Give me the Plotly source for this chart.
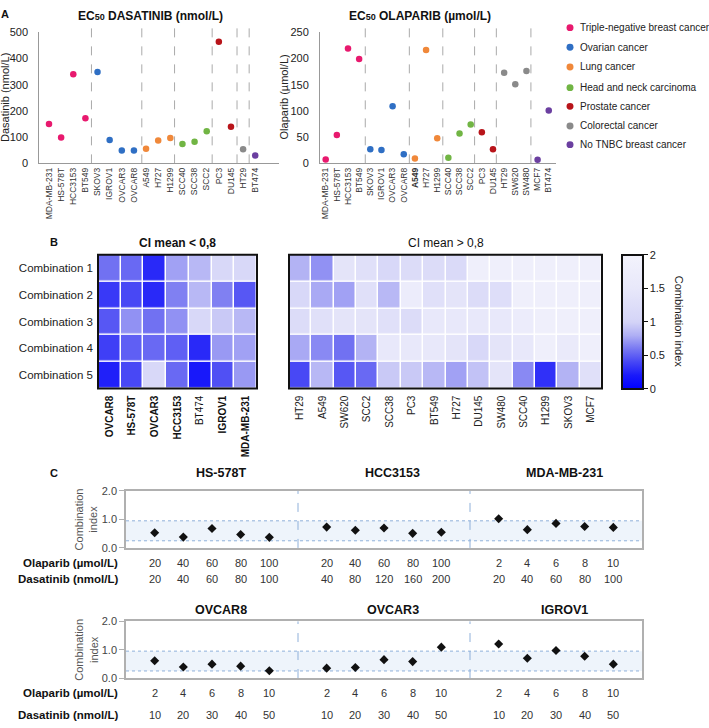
import plotly.graph_objects as go

W, H = 709, 728
def px(x): return x / W
def py(y): return 1 - y / H

FONT = "Liberation Sans, Arial, sans-serif"

# ---------------- Panel A data ----------------
group_names = ["Triple-negative breast cancer", "Ovarian cancer", "Lung cancer",
               "Head and neck carcinoma", "Prostate cancer", "Colorectal cancer",
               "No TNBC breast cancer"]
group_colors = ["#E8196E", "#2F6FC4", "#F0883A", "#71B544", "#B8141A", "#8A8A8A", "#6B3FA0"]

dasa_lines = ["MDA-MB-231", "HS-578T", "HCC3153", "BT549", "SKOV3", "IGROV1", "OVCAR3", "OVCAR8",
              "A549", "H727", "H1299", "SCC40", "SCC38", "SCC2", "PC3", "DU145", "HT29", "BT474"]
dasa_ec50 = [150, 99, 340, 172, 348, 89, 49, 49, 56, 87, 97, 74, 82, 122, 464, 140, 54, 30]
dasa_group = [0, 0, 0, 0, 1, 1, 1, 1, 2, 2, 2, 3, 3, 3, 4, 4, 5, 6]
dasa_separators = [3.5, 7.65, 10.35, 13.45, 15.5, 16.5]

olap_lines = ["MDA-MB-231", "HS-578T", "HCC3153", "BT549", "SKOV3", "IGROV1", "OVCAR3", "OVCAR8",
              "A549", "H727", "H1299", "SCC40", "SCC38", "SCC2", "PC3", "DU145", "HT29", "SW620",
              "SW480", "MCF7", "BT474"]
olap_ec50 = [7.5, 54, 219, 199, 27, 25.6, 109, 17.5, 9.4, 216, 48, 10.6, 57, 74, 59.4, 27, 173,
             151, 176, 7, 101]
olap_group = [0, 0, 0, 0, 1, 1, 1, 1, 2, 2, 2, 3, 3, 3, 4, 4, 5, 5, 5, 6, 6]
olap_separators = [3.55, 7.5, 10.5, 13.35, 15.3, 18.4]

dasa_yticks = [0, 100, 200, 300, 400, 500]
olap_yticks = [0, 50, 100, 150, 200, 250]

# ---------------- Panel B data ----------------
hm_rows = ["Combination 1", "Combination 2", "Combination 3", "Combination 4", "Combination 5"]
hm1_lines = ["OVCAR8", "HS-578T", "OVCAR3", "HCC3153", "BT474", "IGROV1", "MDA-MB-231"]
hm1_bold = [True, True, True, True, False, True, True]
hm1_ci = [
    [0.57, 0.54, 0.27, 0.75, 0.85, 1.10, 1.10],
    [0.34, 0.41, 0.27, 0.63, 0.85, 0.63, 0.47],
    [0.47, 0.69, 0.57, 0.69, 1.10, 0.94, 0.85],
    [0.37, 0.50, 0.54, 0.50, 0.27, 0.72, 0.75],
    [0.23, 0.41, 1.10, 0.54, 0.19, 0.44, 0.72],
]
hm2_lines = ["HT29", "A549", "SW620", "SCC2", "SCC38", "PC3", "BT549", "H727", "DU145", "SW480",
             "SCC40", "H1299", "SKOV3", "MCF7"]
hm2_ci = [
    [0.82, 0.69, 1.40, 1.30, 1.10, 1.20, 1.20, 1.15, 1.80, 1.80, 1.80, 1.80, 1.80, 1.80],
    [1.10, 0.78, 0.75, 1.30, 0.85, 1.70, 1.30, 1.40, 1.20, 1.25, 1.80, 1.80, 1.80, 1.80],
    [1.20, 1.30, 1.40, 1.40, 1.30, 1.20, 1.50, 1.50, 1.50, 1.50, 1.70, 1.80, 1.80, 1.80],
    [0.78, 0.66, 0.57, 0.82, 1.50, 1.50, 1.50, 1.40, 1.10, 1.40, 1.50, 1.80, 1.60, 1.80],
    [0.41, 0.85, 0.47, 0.54, 0.94, 0.94, 0.85, 0.75, 0.90, 1.40, 0.66, 0.30, 0.82, 1.30],
]
cbar_ticks = [0, 0.5, 1, 1.5, 2]
cbar_ticktext = ["0", "0.5", "1", "1.5", "2"]

# ---------------- Panel C data ----------------
c_row1_lines = ["HS-578T", "HCC3153", "MDA-MB-231"]
c_row1_ci = [
    [0.53, 0.38, 0.68, 0.47, 0.37],
    [0.73, 0.62, 0.70, 0.51, 0.55],
    [1.02, 0.64, 0.86, 0.75, 0.72],
]
c_row1_olap = [[20, 40, 60, 80, 100], [20, 40, 60, 80, 100], [2, 4, 6, 8, 10]]
c_row1_dasa = [[20, 40, 60, 80, 100], [40, 80, 120, 160, 200], [20, 40, 60, 80, 100]]

c_row2_lines = ["OVCAR8", "OVCAR3", "IGROV1"]
c_row2_ci = [
    [0.61, 0.39, 0.49, 0.42, 0.26],
    [0.35, 0.37, 0.65, 0.58, 1.09],
    [1.20, 0.70, 0.97, 0.77, 0.49],
]
c_row2_olap = [[2, 4, 6, 8, 10], [2, 4, 6, 8, 10], [2, 4, 6, 8, 10]]
c_row2_dasa = [[10, 20, 30, 40, 50], [10, 20, 30, 40, 50], [10, 20, 30, 40, 50]]
c_band = [0.25, 0.95]
c_yticks = [0, 1, 2]
c_yticktext = ["0.0", "1.0", "2.0"]

fig = go.Figure()
shapes = []
annotations = []

# ---------------- Panel A traces ----------------
for g, (gname, gcol) in enumerate(zip(group_names, group_colors)):
    xs = [i for i, gg in enumerate(dasa_group) if gg == g]
    ys = [dasa_ec50[i] for i in xs]
    if xs:
        fig.add_trace(go.Scatter(x=xs, y=ys, mode="markers", xaxis="x", yaxis="y",
                                 marker=dict(color=gcol, size=6.5), name=gname, showlegend=False))
    xs = [i for i, gg in enumerate(olap_group) if gg == g]
    ys = [olap_ec50[i] for i in xs]
    if xs:
        fig.add_trace(go.Scatter(x=xs, y=ys, mode="markers", xaxis="x2", yaxis="y2",
                                 marker=dict(color=gcol, size=6.5), name=gname, showlegend=False))

for s in dasa_separators:
    shapes.append(dict(type="line", xref="x", yref="paper", x0=s, x1=s, y0=py(160), y1=py(22),
                       line=dict(color="#AAAAAA", width=1, dash="dash"), layer="below"))
for s in olap_separators:
    shapes.append(dict(type="line", xref="x2", yref="paper", x0=s, x1=s, y0=py(160), y1=py(22),
                       line=dict(color="#AAAAAA", width=1, dash="dash"), layer="below"))

# legend (manual)
leg_y = [22, 42, 62, 83, 102, 122, 141]
for gname, gcol, ly in zip(group_names, group_colors, leg_y):
    shapes.append(dict(type="circle", xref="paper", yref="paper",
                       x0=px(566.5), x1=px(573.5), y0=py(ly + 3.5), y1=py(ly - 3.5),
                       fillcolor=gcol, line=dict(width=0)))
    annotations.append(dict(x=px(578), y=py(ly), xref="paper", yref="paper", text=gname,
                            showarrow=False, xanchor="left", yanchor="middle",
                            font=dict(size=10, color="#222")))

# ---------------- Panel B traces ----------------
colorscale = [[0, "rgb(0,0,255)"], [0.1, "rgb(25,25,250)"], [0.2, "rgb(70,70,245)"],
              [0.3, "rgb(120,120,242)"], [0.4, "rgb(175,175,244)"], [0.5, "rgb(212,212,247)"],
              [0.75, "rgb(232,232,250)"], [1, "rgb(243,243,252)"]]

fig.add_trace(go.Heatmap(z=hm1_ci, x=hm1_lines, y=hm_rows, xaxis="x3", yaxis="y3",
                         coloraxis="coloraxis", xgap=1.5, ygap=1.5))
fig.add_trace(go.Heatmap(z=hm2_ci, x=hm2_lines, y=hm_rows, xaxis="x4", yaxis="y4",
                         coloraxis="coloraxis", xgap=1.5, ygap=1.5))
for ax, yy in [("x3", "y3"), ("x4", "y4")]:
    shapes.append(dict(type="rect", xref=ax + " domain", yref=yy + " domain", x0=0, x1=1, y0=0, y1=1,
                       line=dict(color="#111", width=2)))

# ---------------- Panel C traces ----------------
def add_c_row(lines, ci, olap, dasa, xa, ya, title_y, olap_y, dasa_y, y_top, y_bot):
    for k, name in enumerate(lines):
        xs = [k * 6 + j + 1 for j in range(len(ci[k]))]
        fig.add_trace(go.Scatter(x=xs, y=ci[k], mode="markers", xaxis=xa, yaxis=ya,
                                 marker=dict(symbol="diamond", color="#111", size=7),
                                 showlegend=False, name=name))
        annotations.append(dict(x=k * 6 + 3.3, y=py(title_y), xref=xa, yref="paper", text="<b>" + name + "</b>",
                                showarrow=False, xanchor="center", yanchor="middle",
                                font=dict(size=12.5, color="#111")))
        for j in range(len(ci[k])):
            annotations.append(dict(x=xs[j], y=py(olap_y), xref=xa, yref="paper", text=str(olap[k][j]),
                                    showarrow=False, xanchor="center", yanchor="middle",
                                    font=dict(size=11, color="#333")))
            annotations.append(dict(x=xs[j], y=py(dasa_y), xref=xa, yref="paper", text=str(dasa[k][j]),
                                    showarrow=False, xanchor="center", yanchor="middle",
                                    font=dict(size=11, color="#333")))
    shapes.append(dict(type="rect", xref=xa + " domain", yref=ya, x0=0, x1=1, y0=c_band[0], y1=c_band[1],
                       fillcolor="#EEF4FB", line=dict(width=0), layer="below"))
    for b in c_band:
        shapes.append(dict(type="line", xref=xa + " domain", yref=ya, x0=0, x1=1, y0=b, y1=b,
                           line=dict(color="#8FB0DA", width=1, dash="dot"), layer="below"))
    for s in [6, 12]:
        shapes.append(dict(type="line", xref=xa, yref=ya + " domain", x0=s, x1=s, y0=0, y1=1,
                           line=dict(color="#8FB0DA", width=1, dash="dash"), layer="below"))
    annotations.append(dict(x=px(120), y=py(olap_y), xref="paper", yref="paper", text="<b>Olaparib (µmol/L)</b>",
                            showarrow=False, xanchor="right", yanchor="middle", font=dict(size=11.5, color="#111")))
    annotations.append(dict(x=px(120), y=py(dasa_y), xref="paper", yref="paper", text="<b>Dasatinib (nmol/L)</b>",
                            showarrow=False, xanchor="right", yanchor="middle", font=dict(size=11.5, color="#111")))
    annotations.append(dict(x=px(86), y=py((y_top + y_bot) / 2), xref="paper", yref="paper",
                            text="Combination<br>index", textangle=-90, showarrow=False,
                            xanchor="center", yanchor="middle", font=dict(size=11, color="#555")))

add_c_row(c_row1_lines, c_row1_ci, c_row1_olap, c_row1_dasa, "x5", "y5", 475, 566, 583, 493, 551)
add_c_row(c_row2_lines, c_row2_ci, c_row2_olap, c_row2_dasa, "x6", "y6", 614, 699, 721, 625.7, 683.3)

# ---------------- text annotations ----------------
annotations += [
    dict(x=px(150), y=py(10), xref="paper", yref="paper",
         text="<b>EC<span style='font-size:9px'>50</span> DASATINIB (nmol/L)</b>",
         showarrow=False, xanchor="center", yanchor="middle", font=dict(size=12, color="#111")),
    dict(x=px(420), y=py(10), xref="paper", yref="paper",
         text="<b>EC<span style='font-size:9px'>50</span> OLAPARIB (µmol/L)</b>",
         showarrow=False, xanchor="center", yanchor="middle", font=dict(size=12, color="#111")),
    dict(x=px(5.5), y=py(93), xref="paper", yref="paper", text="Dasatinib (nmol/L)", textangle=-90,
         showarrow=False, xanchor="center", yanchor="middle", font=dict(size=11, color="#222")),
    dict(x=px(284), y=py(93), xref="paper", yref="paper", text="Olaparib (µmol/L)", textangle=-90,
         showarrow=False, xanchor="center", yanchor="middle", font=dict(size=11, color="#222")),
    dict(x=px(5), y=py(8), xref="paper", yref="paper", text="<b>A</b>", showarrow=False,
         xanchor="center", yanchor="middle", font=dict(size=11, color="#111")),
    dict(x=px(54), y=py(240), xref="paper", yref="paper", text="<b>B</b>", showarrow=False,
         xanchor="center", yanchor="middle", font=dict(size=11, color="#111")),
    dict(x=px(54), y=py(475), xref="paper", yref="paper", text="<b>C</b>", showarrow=False,
         xanchor="center", yanchor="middle", font=dict(size=11, color="#111")),
    dict(x=0.5, y=py(241), xref="x3 domain", yref="paper", text="<b>CI mean &lt; 0,8</b>", showarrow=False,
         xanchor="center", yanchor="middle", font=dict(size=12, color="#111")),
    dict(x=0.5, y=py(241), xref="x4 domain", yref="paper", text="CI mean &gt; 0,8", showarrow=False,
         xanchor="center", yanchor="middle", font=dict(size=12, color="#111")),
    dict(x=px(679), y=py(321), xref="paper", yref="paper", text="Combination index", textangle=90,
         showarrow=False, xanchor="center", yanchor="middle", font=dict(size=11, color="#222")),
]

axA = dict(showgrid=False, zeroline=False, showline=True, linecolor="#999", linewidth=1)
axC_x = dict(range=[0, 18], showgrid=False, zeroline=False, showticklabels=False, ticks="",
             showline=True, mirror=True, linecolor="#B0B0B0", linewidth=1.5)
axC_y = dict(range=[0, 2], tickvals=c_yticks, ticktext=c_yticktext, showgrid=False, zeroline=False,
             showline=True, mirror=True, linecolor="#B0B0B0", linewidth=1.5, ticks="outside", ticklen=5,
             tickcolor="#B0B0B0", tickfont=dict(size=11, color="#444"))

fig.update_layout(
    width=W, height=H, margin=dict(l=0, r=0, t=0, b=0),
    paper_bgcolor="white", plot_bgcolor="white", showlegend=False,
    font=dict(family=FONT, color="#222"),
    xaxis=dict(axA, anchor="y", domain=[px(39.3), px(279)], range=[-0.8, 18.96],
               tickvals=list(range(len(dasa_lines))), ticktext=dasa_lines, tickangle=-90,
               tickfont=dict(size=8.5, color="#333"), ticks=""),
    yaxis=dict(axA, anchor="x", domain=[py(160), py(26.7)], range=[0, 500], tickvals=dasa_yticks,
               tickfont=dict(size=11, color="#222"), ticks="", ticklabelstandoff=8),
    xaxis2=dict(axA, anchor="y2", domain=[px(320), px(556)], range=[-0.51, 20.65],
                tickvals=list(range(len(olap_lines))),
                ticktext=["<b>" + n + "</b>" if n == "A549" else n for n in olap_lines], tickangle=-90,
                tickfont=dict(size=8.5, color="#333"), ticks=""),
    yaxis2=dict(axA, anchor="x2", domain=[py(160), py(26.7)], range=[0, 250], tickvals=olap_yticks,
                tickfont=dict(size=11, color="#222"), ticks="", ticklabelstandoff=8),
    xaxis3=dict(anchor="y3", domain=[px(98), px(257)], showgrid=False, zeroline=False, tickangle=-90,
                tickvals=hm1_lines,
                ticktext=["<b>" + n + "</b>" if b else n for n, b in zip(hm1_lines, hm1_bold)],
                tickfont=dict(size=10, color="#111"), ticks="", ticklabelstandoff=4),
    yaxis3=dict(anchor="x3", domain=[py(389), py(253)], autorange="reversed", showgrid=False, zeroline=False,
                tickfont=dict(size=11.5, color="#222"), ticks="", ticklabelstandoff=4),
    xaxis4=dict(anchor="y4", domain=[px(289), px(602)], showgrid=False, zeroline=False, tickangle=-90,
                tickfont=dict(size=10, color="#222"), ticks="", ticklabelstandoff=4),
    yaxis4=dict(anchor="x4", domain=[py(389), py(253)], autorange="reversed", showgrid=False, zeroline=False,
                showticklabels=False, ticks=""),
    xaxis5=dict(axC_x, anchor="y5", domain=[px(126), px(642)]),
    yaxis5=dict(axC_y, anchor="x5", domain=[py(551), py(493)]),
    xaxis6=dict(axC_x, anchor="y6", domain=[px(126), px(642)]),
    yaxis6=dict(axC_y, anchor="x6", domain=[py(683.3), py(625.7)]),
    coloraxis=dict(colorscale=colorscale, cmin=0, cmax=2,
                   colorbar=dict(x=px(622), xanchor="left", y=py(321), yanchor="middle",
                                 len=136 / H, lenmode="fraction", thickness=21, thicknessmode="pixels",
                                 outlinewidth=2, outlinecolor="#111", xpad=0, ypad=0,
                                 tickvals=cbar_ticks, ticktext=cbar_ticktext, ticks="outside",
                                 ticklen=4, tickcolor="#111", tickfont=dict(size=11, color="#222"))),
    shapes=shapes, annotations=annotations,
)

fig.write_html("out.html", config={"displayModeBar": False},
               post_script="document.body.style.margin='0';document.body.style.overflow='hidden';")
